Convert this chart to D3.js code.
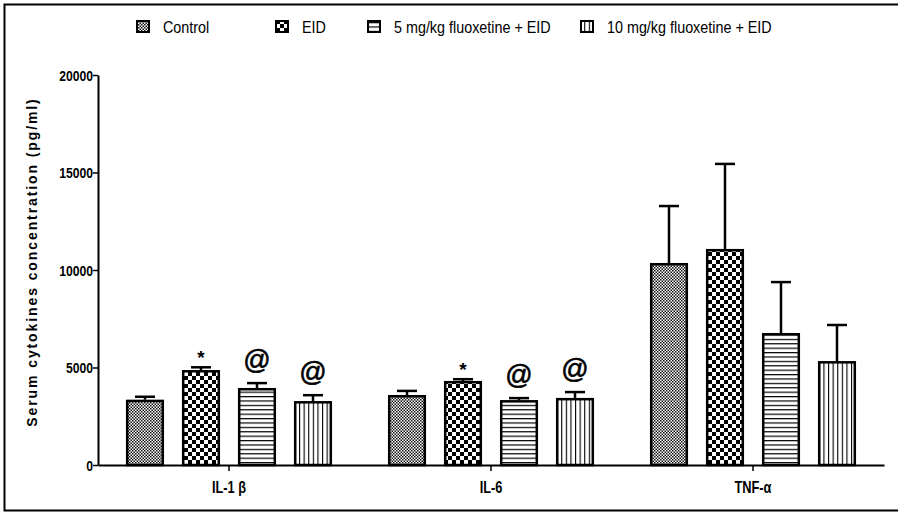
<!DOCTYPE html>
<html><head><meta charset="utf-8">
<script src="https://cdn.jsdelivr.net/npm/d3@7"></script>
<style>
body{margin:0;background:#fff;}
svg{display:block;}
</style></head>
<body><svg id="chart" width="898" height="512"></svg>
<script>
const cytokines = ["IL-1 β", "IL-6", "TNF-α"];
const groups = ["Control", "EID", "5 mg/kg fluoxetine + EID", "10 mg/kg fluoxetine + EID"];
const means = {
  "Control":                   [3350, 3590, 10360],
  "EID":                       [4870, 4310, 11080],
  "5 mg/kg fluoxetine + EID":  [3950, 3330, 6770],
  "10 mg/kg fluoxetine + EID": [3280, 3440, 5330]
};
const sem = {
  "Control":                   [150, 210, 2920],
  "EID":                       [140, 90, 4360],
  "5 mg/kg fluoxetine + EID":  [250, 100, 2610],
  "10 mg/kg fluoxetine + EID": [300, 300, 1850]
};
const marks = {
  "Control":                   ["", "", ""],
  "EID":                       ["*", "*", ""],
  "5 mg/kg fluoxetine + EID":  ["@", "@", ""],
  "10 mg/kg fluoxetine + EID": ["@", "@", ""]
};
const yTicks = [0, 5000, 10000, 15000, 20000];
const yTitle = "Serum cytokines concentration (pg/ml)";

const FONT = "Liberation Sans, Arial, sans-serif";
const svg = d3.select("#chart");
const defs = svg.append("defs");

// patterns
const pC = defs.append("pattern").attr("id","pat0").attr("patternUnits","userSpaceOnUse").attr("width",3).attr("height",3);
pC.append("rect").attr("width",3).attr("height",3).attr("fill","#fff");
pC.append("rect").attr("width",1.5).attr("height",1.5).attr("fill","#111");
pC.append("rect").attr("x",1.5).attr("y",1.5).attr("width",1.5).attr("height",1.5).attr("fill","#111");
const pE = defs.append("pattern").attr("id","pat1").attr("patternUnits","userSpaceOnUse").attr("width",8).attr("height",8);
pE.append("rect").attr("width",8).attr("height",8).attr("fill","#fff");
pE.append("rect").attr("width",4).attr("height",4).attr("fill","#000");
pE.append("rect").attr("x",4).attr("y",4).attr("width",4).attr("height",4).attr("fill","#000");
const pH = defs.append("pattern").attr("id","pat2").attr("patternUnits","userSpaceOnUse").attr("width",4.4).attr("height",4.4);
pH.append("rect").attr("width",4.4).attr("height",4.4).attr("fill","#fff");
pH.append("rect").attr("y",0).attr("width",4.4).attr("height",1.2).attr("fill","#000");
const pV = defs.append("pattern").attr("id","pat3").attr("patternUnits","userSpaceOnUse").attr("width",4.6).attr("height",4.6);
pV.append("rect").attr("width",4.6).attr("height",4.6).attr("fill","#fff");
pV.append("rect").attr("x",0).attr("width",1.1).attr("height",4.6).attr("fill","#000");

// frame (left, top, bottom)
svg.append("path").attr("d","M 960 4.5 H 4.5 V 510.5 H 960").attr("fill","none").attr("stroke","#000").attr("stroke-width",2);

const x0 = d3.scaleBand().domain(cytokines).range([98, 884]).paddingInner(0).paddingOuter(0);
const x1 = d3.scaleBand().domain(groups).range([-112, 112]).paddingInner(0.32).paddingOuter(0.16);
const y = d3.scaleLinear().domain([0, 20000]).range([465, 75]);

// axes
const yAxis = svg.append("g").attr("transform","translate(98,0)")
  .call(d3.axisLeft(y).tickValues(yTicks).tickSize(5).tickSizeOuter(0).tickFormat(d3.format("d")));
yAxis.select(".domain").attr("stroke-width",2);
yAxis.selectAll(".tick line").attr("stroke-width",1.5);
yAxis.selectAll(".tick text").attr("x",null).attr("dy",null)
  .attr("transform","translate(-5,5) scale(0.84,1)")
  .attr("font-family",FONT).attr("font-size",14.5).attr("font-weight","bold").attr("fill","#000");

const xAxis = svg.append("g").attr("transform","translate(0,465)")
  .call(d3.axisBottom(x0).tickSize(6).tickSizeOuter(0));
xAxis.select(".domain").attr("stroke-width",2);
xAxis.selectAll(".tick line").attr("stroke-width",1.5);
xAxis.selectAll(".tick text").attr("y",null).attr("dy",null)
  .attr("transform","translate(0,28) scale(0.8,1)")
  .attr("font-family",FONT).attr("font-size",16).attr("font-weight","bold").attr("fill","#000");

// bars
const data = [];
cytokines.forEach((c,i)=>groups.forEach((g,j)=>data.push({c, g, j, v:means[g][i], e:sem[g][i], m:marks[g][i]})));

const gBars = svg.append("g");
data.forEach(d=>{
  const cx = x0(d.c) + x0.bandwidth()/2;
  const bx = cx + x1(d.g);
  const bw = x1.bandwidth();
  const mid = bx + bw/2;
  gBars.append("line").attr("x1",mid).attr("x2",mid).attr("y1",y(d.v)).attr("y2",y(d.v+d.e)).attr("stroke","#000").attr("stroke-width",2.5);
  gBars.append("line").attr("x1",mid-10).attr("x2",mid+10).attr("y1",y(d.v+d.e)).attr("y2",y(d.v+d.e)).attr("stroke","#000").attr("stroke-width",2.5);
  gBars.append("rect").attr("x",bx+1.25).attr("y",y(d.v)+1.25).attr("width",bw-2.5).attr("height",y(0)-y(d.v)-1.25)
    .attr("fill",`url(#pat${d.j})`).attr("stroke","#000").attr("stroke-width",2.5);
  if(d.m){
    const big = d.m === "@";
    gBars.append("text").attr("x",mid).attr("y",y(d.v+d.e) - (big?14:3))
      .attr("text-anchor","middle").attr("font-family",FONT)
      .attr("font-size", big?27:19).attr("font-weight", big?"normal":"bold")
      .attr("stroke", big?"#000":"none").attr("stroke-width", big?0.6:0)
      .text(d.m);
  }
});

// y title
svg.append("text").attr("transform","translate(37,262) rotate(-90)").attr("text-anchor","middle")
  .attr("font-family",FONT).attr("font-size",14).attr("font-weight","bold")
  .attr("letter-spacing",1.9).text(yTitle);

// legend
const legTextX = [163, 302, 394, 607];
const leg = svg.append("g");
groups.forEach((g,j)=>{
  leg.append("rect").attr("x",legTextX[j]-26).attr("y",21).attr("width",12).attr("height",11)
    .attr("fill",`url(#pat${j})`).attr("stroke","#000").attr("stroke-width",2);
  leg.append("text").attr("transform",`translate(${legTextX[j]},33) scale(0.87,1)`)
    .attr("font-family",FONT).attr("font-size",16.5).attr("fill","#000").text(g);
});
</script></body></html>
